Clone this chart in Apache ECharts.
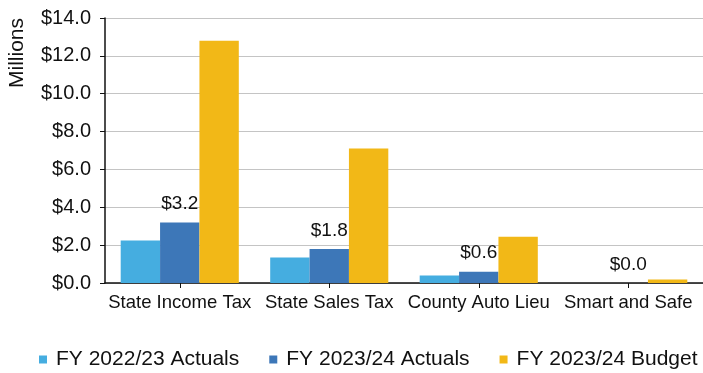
<!DOCTYPE html>
<html>
<head>
<meta charset="utf-8">
<script src="https://cdn.jsdelivr.net/npm/echarts@6/dist/echarts.min.js"></script>
<style>html,body{margin:0;padding:0;background:#fff}#c{width:703px;height:373px}</style>
</head>
<body>
<div id="c"></div>
<script>
const categories = ['State Income Tax', 'State Sales Tax', 'County Auto Lieu', 'Smart and Safe'];
const actuals2223 = [2.25, 1.35, 0.4, 0.0];
const actuals2324 = [3.2, 1.8, 0.6, 0.0];
const budget2324 = [12.8, 7.1, 2.45, 0.18];
const seriesNames = ['FY 2022/23 Actuals', 'FY 2023/24 Actuals', 'FY 2023/24 Budget'];
const yTicks = { min: 0, max: 14, interval: 2 };

const FONT = 'Liberation Sans, Arial, sans-serif';
const chart = echarts.init(document.getElementById('c'), null, { renderer: 'canvas' });
chart.setOption({
  animation: false,
  backgroundColor: '#fff',
  grid: { left: 105, right: 0, top: 18, bottom: 90, containLabel: false },
  graphic: [{
    type: 'text', x: 17, y: 53, rotation: Math.PI / 2,
    style: { text: 'Millions', font: '21px ' + FONT, fill: '#111', align: 'center', verticalAlign: 'middle' }
  }],
  legend: {
    left: 34, top: 344, itemWidth: 8, itemHeight: 8, itemGap: 30, icon: 'rect',
    textStyle: { fontFamily: FONT, fontSize: 21, color: '#111', padding: [0, 0, 0, 4] },
    data: seriesNames
  },
  xAxis: {
    type: 'category', data: categories,
    axisLine: { lineStyle: { color: '#111', width: 1.5 } },
    axisTick: { show: true, alignWithLabel: true, length: 5, lineStyle: { color: '#111' } },
    axisLabel: { fontFamily: FONT, fontSize: 18.5, color: '#111', margin: 10, interval: 0 }
  },
  yAxis: {
    type: 'value', min: yTicks.min, max: yTicks.max, interval: yTicks.interval,
    axisLine: { show: true, lineStyle: { color: '#111', width: 1.5 } },
    axisTick: { show: true, length: 5, lineStyle: { color: '#111' } },
    axisLabel: { fontFamily: FONT, fontSize: 20, color: '#111', margin: 14, formatter: v => '$' + v.toFixed(1) },
    splitLine: { lineStyle: { color: '#c4c4c4', width: 1 } }
  },
  series: [
    { name: seriesNames[0], type: 'bar', data: actuals2223, barGap: '0%', barCategoryGap: '21%', itemStyle: { color: '#45ADE0' } },
    { name: seriesNames[1], type: 'bar', data: actuals2324, itemStyle: { color: '#3D77B8' },
      label: { show: true, position: 'top', distance: 9, fontFamily: FONT, fontSize: 19, color: '#111', formatter: p => '$' + p.value.toFixed(1) } },
    { name: seriesNames[2], type: 'bar', data: budget2324, itemStyle: { color: '#F2B817' } }
  ]
});
</script>
</body>
</html>
